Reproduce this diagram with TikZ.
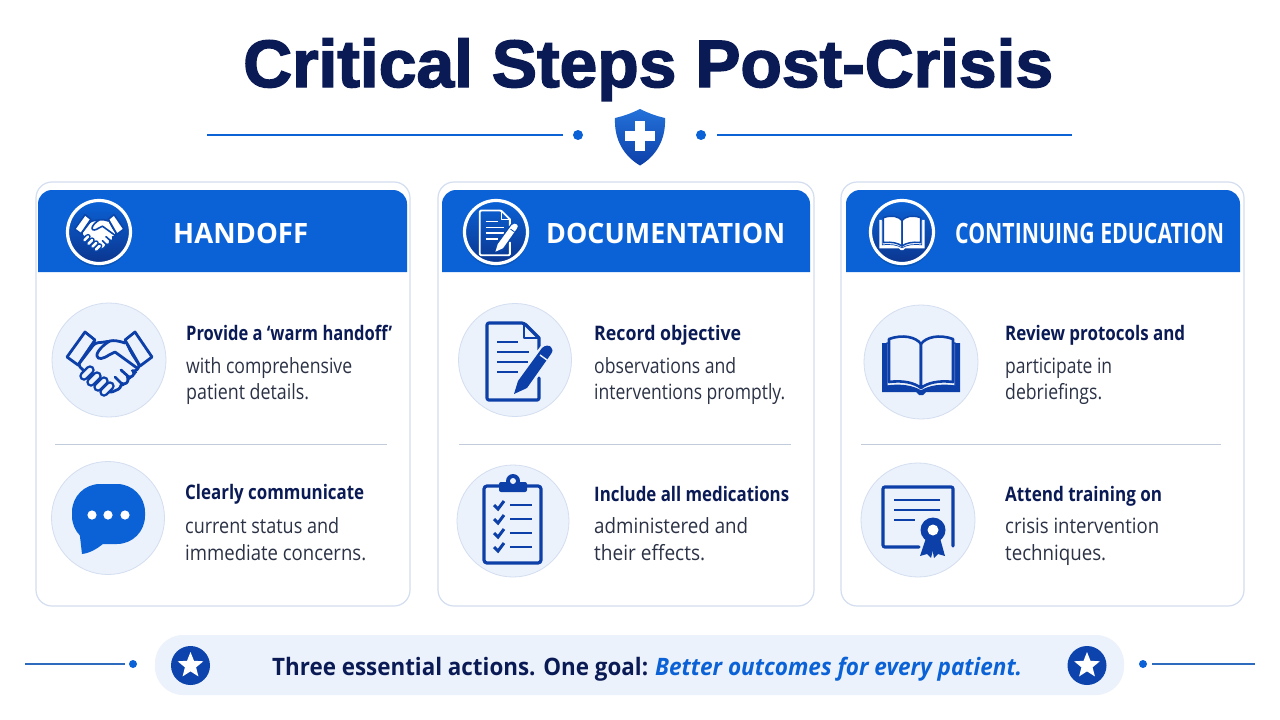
\documentclass[tikz,border=0pt]{standalone}
\usepackage{fontspec}
\usepackage{graphicx}
\usetikzlibrary{shapes.geometric}
\setmainfont{Open Sans}
\newfontfamily\titlefont{Liberation Sans}[BoldFeatures={FakeBold=2.2}]
\definecolor{navy}{HTML}{0A1A55}
\definecolor{bodytext}{HTML}{2B3245}
\definecolor{brand}{HTML}{0B62D6}
\definecolor{iconblue}{HTML}{0D3FA8}
\definecolor{pale}{HTML}{ECF2FB}
\definecolor{edge}{HTML}{D3DEF0}
\definecolor{ink}{HTML}{0A47AD}
\newsavebox\fitsave
\newcommand\fitw[2]{\sbox\fitsave{#2}\pgfmathsetmacro\fitr{#1/\wd\fitsave}\scalebox{\fitr}[1]{\usebox\fitsave}}
% name, x, baseline y, right x, font+colour, text
\newcommand\txt[6]{\pgfmathsetmacro\fitwd{#4-#2}\node[inner sep=0pt,anchor=base west] (#1) at (#2,#3) {\fitw{\fitwd}{#5 #6}};}
\newcommand\hb[5]{\txt{#1}{#2}{#3}{#4}{\fontsize{20}{24}\selectfont\bfseries\color{navy}}{#5}}
\newcommand\rg[5]{\txt{#1}{#2}{#3}{#4}{\fontsize{21}{25}\selectfont\color{bodytext}}{#5}}
\tikzset{
  card/.style={fill=white,draw=edge,line width=1.2pt,rounded corners=16pt},
  bubble/.style={fill=pale,draw=edge,line width=0.8pt},
  rule/.style={draw=edge!80!gray,line width=1pt},
  flourish/.style={draw=brand,line width=1.4pt},
  headtext/.style={inner sep=0pt,anchor=base west,text=white,font=\fontsize{28}{32}\selectfont\bfseries},
}
% stroke, fill, scale
\newcommand\iconhands[3]{%
  \tikzset{lw/.style={line width=#3*2.8pt,line join=round,line cap=round}}
  \draw[lw,draw=#1,fill=#2,rounded corners=#3*3pt] (-14,-19) -- (-4,-20) -- (1,-21) -- (16,-19) -- (31,4) -- (26,10) -- (24,9) -- (26,12) -- (21,16) -- (18,15) -- (20,19) -- (15,23) -- (12,21) -- (12,26) -- (1,31) -- (-4,27) -- (-26,8) -- (-31,3) -- cycle;
  \draw[lw,draw=#1,fill=#2] (16,-19) .. controls (10,-21) and (5,-22) .. (1,-21) .. controls (-5,-18) and (-13,-10) .. (-12,-6) .. controls (-11,-2) and (-6,-3) .. (0,-7) -- (6,-10) -- (28,6);
  \draw[lw,draw=#1] (12,8) -- (21,16) (6,15) -- (14,23);
  \foreach \a/\b in {-22/11,-15/17,-8/22,-2/27}{
    \draw[line width=#3*9.5pt,line cap=round,draw=#1] (\a+3,\b-3) -- (\a-3,\b+3);
    \draw[line width=#3*4.5pt,line cap=round,draw=#2] (\a+3,\b-3) -- (\a-3,\b+3);
  }
  \draw[lw,draw=#1,fill=#2] (-42,-5) -- (-24,-30) -- (-14,-22) -- (-31,3) -- cycle;
  \draw[lw,draw=#1,fill=#2] (16,-22) -- (26,-30) -- (43,-5) -- (31,4) -- cycle;
}
% stroke, halo behind pen, pen highlight, scale, pen fill
\newcommand\icondoc[5]{%
  \tikzset{lw/.style={line width=#4*3.2pt,line join=round,line cap=round}}
  \draw[lw,draw=#1,rounded corners=#4*2pt] (24,18) -- (24,40) -- (-28,40) -- (-28,-37) -- (9,-37) [sharp corners] -- (24,-22) -- (24,-10);
  \draw[lw,line width=#4*2.4pt,draw=#1] (9,-37) -- (9,-22) -- (24,-22);
  \draw[line width=#4*2.4pt,draw=#1] (-18,-18) -- (3,-18) (-18,-8) -- (14,-8) (-18,2) -- (13,2) (-18,12) -- (3,12);
  \draw[line width=#4*16pt,draw=#2] (3,30) -- (32,-9);
  \fill[#5] (-1,34) -- (3,21) -- (27,-12) .. controls (30,-15) and (34,-15) .. (36,-13) .. controls (38,-11) and (38,-9) .. (36,-6) -- (12,28) -- cycle;
  \draw[line width=#4*1.4pt,draw=#3] (25,-5) -- (32,0);
}
% stroke, page fill, cover fill, scale
\newcommand\iconbook[4]{%
  \fill[#3] (-39,-19) -- (-39,30) -- (-5,30) -- (-2,33) -- (2,33) -- (5,30) -- (39,30) -- (39,-19) -- cycle;
  \draw[line width=#4*1.2pt,draw=#1,fill=#2] (-34,-19) -- (-34,24) .. controls (-20,22) and (-8,24) .. (0,29) .. controls (8,24) and (20,22) .. (34,24) -- (34,-19) -- cycle;
  \draw[line width=#4*2.6pt,draw=#1,fill=#2,line join=round] (-32,-23) .. controls (-18,-28) and (-5,-25) .. (0,-18) -- (0,26) .. controls (-6,21) and (-18,18) .. (-32,20) -- cycle;
  \draw[line width=#4*2.6pt,draw=#1,fill=#2,line join=round] (32,-23) .. controls (18,-28) and (5,-25) .. (0,-18) -- (0,26) .. controls (6,21) and (18,18) .. (32,20) -- cycle;
}
% header medallion: x, y
\newcommand\medallion[2]{%
  \fill[black,opacity=0.12] (#1,#2+3) circle [radius=32];
  \shade[top color=brand,bottom color=iconblue!85!black] (#1,#2) circle [radius=31];
  \draw[white,line width=3.2pt] (#1,#2) circle [radius=31.5];
}
\newcommand\cardbox[6]{%
  % card x0 x1, header x0 x1, rule x0 x1
  \draw[card] (#1,182) rectangle (#2,606);
  \fill[brand] (#3,272) [rounded corners=14pt] -- (#3,190) -- (#4,190) [sharp corners] -- (#4,272) -- cycle;
  \draw[rule] (#5,444) -- (#6,444);
}
\begin{document}
\begin{tikzpicture}[x=1pt,y=-1pt]
\useasboundingbox (0,0) rectangle (1280,720);
\fill[white] (0,0) rectangle (1280,720);

% title
\txt{title}{243}{87}{1053}{\titlefont\fontsize{67}{70}\selectfont\bfseries\color{navy}}{Critical Steps Post-Crisis}

% ornament
\coordinate (ruleLa) at (207,135); \coordinate (ruleLb) at (563,135);
\coordinate (ruleRa) at (717,135); \coordinate (ruleRb) at (1072,135);
\draw[flourish] (ruleLa) -- (ruleLb);
\draw[flourish] (ruleRa) -- (ruleRb);
\fill[brand] (578,135) circle [radius=5];
\fill[brand] (701,135) circle [radius=5];
\shade[top color=brand!90!white,bottom color=iconblue] (640,109) .. controls (648,113) and (656,116) .. (665,118) .. controls (666,140) and (656,156) .. (640,165.5) .. controls (624,156) and (614,140) .. (615,118) .. controls (624,116) and (632,113) .. (640,109) -- cycle;
\fill[white] (635.2,121) rectangle (644.8,151);
\fill[white] (625,131.3) rectangle (655,140.7);

% cards
\cardbox{36}{410}{38}{407}{55}{387}
\cardbox{438}{814}{442}{810}{459}{791}
\cardbox{841}{1244}{846}{1240}{861}{1221}

% medallions
\medallion{99}{232}
\medallion{496}{232}
\medallion{902}{232}
\begin{scope}[shift={(99,232)},scale=0.58]\iconhands{ink}{white}{0.58}\end{scope}
\begin{scope}[shift={(496,232)},scale=0.58]\icondoc{white}{ink}{ink}{0.58}{white}\end{scope}
\begin{scope}[shift={(902,231)},scale=0.58]\iconbook{ink}{white}{white}{0.58}\end{scope}

% headers
\node[headtext] (h1) at (173,243) {\fitw{135}{HANDOFF}};
\node[headtext] (h2) at (546,243) {\fitw{239}{DOCUMENTATION}};
\node[headtext] (h3) at (955,243) {\fitw{269}{CONTINUING EDUCATION}};

% icon discs
\draw[bubble] (109,360) circle [radius=57];
\draw[bubble] (108,518) circle [radius=56.5];
\draw[bubble] (515,360) circle [radius=56.5];
\draw[bubble] (513,521) circle [radius=56];
\draw[bubble] (921,362) circle [radius=57];
\draw[bubble] (918,520) circle [radius=57];

% handshake
\begin{scope}[shift={(109,362)}]\iconhands{iconblue}{pale}{1}\end{scope}
% speech bubble
\fill[brand,rounded corners=28pt] (72,484) rectangle (145,544);
\fill[brand] (79,528) -- (82,554) .. controls (90,553) and (97,549) .. (104,543) -- cycle;
\foreach \p in {92,108,125}{\fill[white] (\p,515) circle [radius=4.6];}
% document
\begin{scope}[shift={(515,360)}]\icondoc{iconblue}{pale}{pale}{1}{iconblue}\end{scope}
% clipboard
\draw[iconblue,line width=3.2pt,rounded corners=3pt] (484,486) rectangle (541,563);
\fill[iconblue,rounded corners=2pt] (499,482) rectangle (527,492);
\fill[iconblue] (513,481) circle [radius=7];
\fill[pale] (513,481) circle [radius=3];
\foreach \q in {505,519,533,547}{
  \draw[iconblue,line width=3pt] (494,\q) -- (498,\q+4) -- (504,\q-4);
  \draw[iconblue,line width=2.2pt] (510,\q) -- (532,\q);
}
% book
\begin{scope}[shift={(921,362)}]\iconbook{iconblue}{pale}{iconblue}{1}\end{scope}
% certificate
\draw[iconblue,line width=3.2pt,line cap=round,rounded corners=2pt] (919,547) -- (883,547) -- (883,487) -- (953,487) -- (953,546);
\draw[iconblue,line width=2.2pt] (894,500) -- (940,500) (894,510) -- (940,510) (894,520) -- (915,520);
\fill[iconblue] (926,538) -- (920,556) -- (927,554) -- (931,558) -- (935,542) -- cycle;
\fill[iconblue] (940,538) -- (945,556) -- (938,554) -- (934,558) -- (931,542) -- cycle;
\fill[iconblue] (933,530) circle [radius=12.5];
\fill[white] (933,530) circle [radius=5.5];

% texts
\hb{t11}{186}{340}{392}{Provide a ‘warm handoff’}
\rg{t12}{186}{373}{352}{with comprehensive}
\rg{t13}{186}{399}{309}{patient details.}
\hb{t14}{185}{499}{364}{Clearly communicate}
\rg{t15}{185}{533}{339}{current status and}
\rg{t16}{185}{560}{366}{immediate concerns.}
\hb{t21}{594}{340}{741}{Record objective}
\rg{t22}{594}{373}{736}{observations and}
\rg{t23}{594}{399}{785}{interventions promptly.}
\hb{t24}{594}{501}{789}{Include all medications}
\rg{t25}{594}{533}{748}{administered and}
\rg{t26}{594}{560}{705}{their effects.}
\hb{t31}{1005}{340}{1185}{Review protocols and}
\rg{t32}{1005}{373}{1112}{participate in}
\rg{t33}{1005}{399}{1102}{debriefings.}
\hb{t34}{1005}{501}{1162}{Attend training on}
\rg{t35}{1005}{533}{1159}{crisis intervention}
\rg{t36}{1005}{560}{1106}{techniques.}

% footer
\fill[pale,rounded corners=28pt] (155,635) rectangle (1124,695);
\fill[iconblue!90!brand] (190.5,665.5) circle [radius=19.5];
\fill[iconblue!90!brand] (1087,665.5) circle [radius=19.5];
\node[star,star points=5,star point ratio=2.3,fill=white,inner sep=0pt,minimum size=27pt] (s1) at (190.5,665.5) {};
\node[star,star points=5,star point ratio=2.3,fill=white,inner sep=0pt,minimum size=27pt] (s2) at (1087,665.5) {};
\txt{f1}{272}{675}{648}{\fontsize{24}{28}\selectfont\bfseries\color{navy}}{Three essential actions. One goal:}
\txt{f2}{655}{675}{1022}{\fontsize{24}{28}\selectfont\bfseries\itshape\color{brand}}{Better outcomes for every patient.}
\coordinate (fLa) at (25,664); \coordinate (fLb) at (125,664);
\coordinate (fRa) at (1152,664); \coordinate (fRb) at (1255,664);
\draw[flourish,draw=brand!70!gray] (fLa) -- (fLb);
\draw[flourish,draw=brand!70!gray] (fRa) -- (fRb);
\fill[brand] (133,664) circle [radius=4];
\fill[brand] (1143,664) circle [radius=4];
\end{tikzpicture}
\end{document}
